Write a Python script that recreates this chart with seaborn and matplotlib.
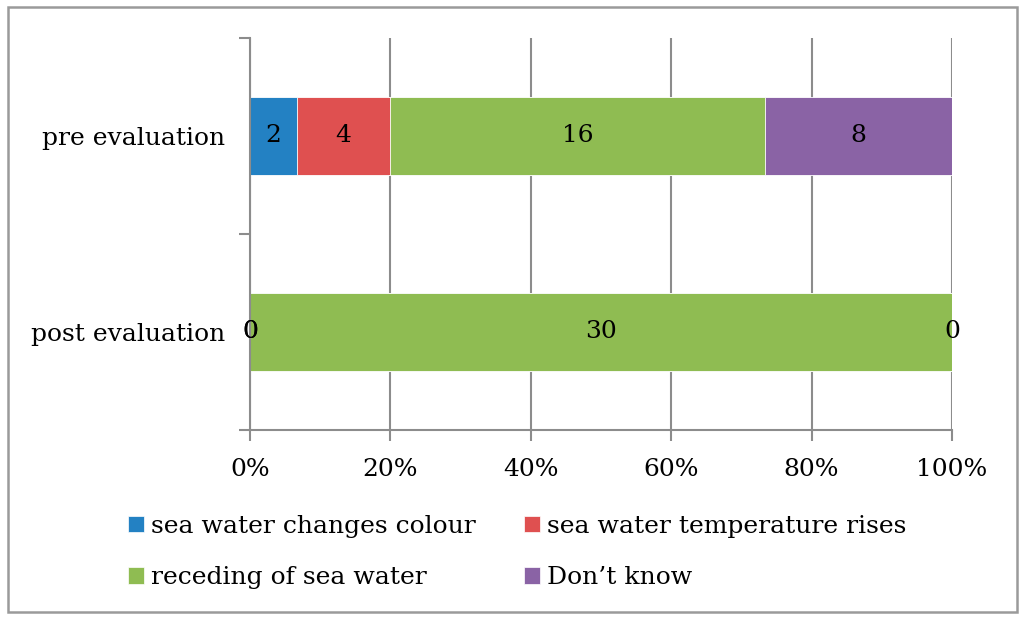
import numpy as np
import pandas as pd
import seaborn as sns
import matplotlib.pyplot as plt
from matplotlib.patches import Patch, Rectangle

stages = ["pre evaluation", "post evaluation"]
answers = ["sea water changes colour", "sea water temperature rises",
           "receding of sea water", "Don\u2019t know"]
changes_colour = [2, 0]
temp_rises = [4, 0]
receding = [16, 30]
dont_know = [8, 0]
colors = ["#2381c3", "#df5050", "#8fbc52", "#8a63a5"]

sns.set_theme(style="white")
plt.rcParams["font.family"] = ["DejaVu Serif"]
FS = 18

counts = np.array([changes_colour, temp_rises, receding, dont_know], dtype=float)
pct = counts / counts.sum(axis=0) * 100
cum = pct.cumsum(axis=0)

fig = plt.figure(figsize=(10.24, 6.19), dpi=100)
ax = fig.add_axes([250 / 1024, 1 - 430 / 619, 702 / 1024, 392 / 619])

# layered bars: draw longest cumulative first
for i in range(len(answers) - 1, -1, -1):
    df = pd.DataFrame({"stage": stages, "pct": cum[i]})
    sns.barplot(data=df, x="pct", y="stage", orient="h", color=colors[i],
                saturation=1, width=0.4, order=stages, ax=ax, zorder=2,
                edgecolor="white", linewidth=0.6)

# value labels at segment centres
for i in range(len(answers)):
    for j in range(len(stages)):
        left = cum[i, j] - pct[i, j]
        ax.text(left + pct[i, j] / 2, j, f"{int(counts[i, j])}",
                ha="center", va="center", fontsize=FS, color="black", zorder=5)

ax.set_xlim(0, 100)
ax.set_ylim(1.5, -0.5)
ax.set_xticks([0, 20, 40, 60, 80, 100])
ax.set_xticklabels([f"{v}%" for v in [0, 20, 40, 60, 80, 100]], fontsize=FS)
ax.set_yticks([0, 1])
ax.set_yticklabels(stages, fontsize=FS)
ax.set_yticks([-0.5, 0.5, 1.5], minor=True)
ax.set_xlabel("")
ax.set_ylabel("")
ax.grid(axis="x", color="#8c8c8c", linewidth=1.5, zorder=0)
ax.set_axisbelow(True)
for s in ["top", "right"]:
    ax.spines[s].set_visible(False)
for s in ["left", "bottom"]:
    ax.spines[s].set_color("#8c8c8c")
    ax.spines[s].set_linewidth(1.5)
ax.tick_params(axis="y", which="major", length=0, pad=18, colors="black")
ax.tick_params(axis="y", which="minor", length=8, width=1.5, color="#8c8c8c", left=True)
ax.tick_params(axis="x", which="major", length=8, width=1.5, color="#8c8c8c",
               bottom=True, pad=12, labelcolor="black")

order = [0, 2, 1, 3]
handles = [Patch(facecolor=colors[k], edgecolor="white", linewidth=0.5) for k in order]
fig.legend(handles, [answers[k] for k in order], ncol=2, loc="center",
           bbox_to_anchor=(0.505, 1 - 552 / 619), frameon=False, fontsize=FS,
           labelcolor="black", handlelength=0.65, handleheight=0.65,
           handletextpad=0.3, columnspacing=1.9, labelspacing=1.15)

fig.patches.append(Rectangle((8 / 1024, 7 / 619), 1009 / 1024, 605 / 619,
                             transform=fig.transFigure, fill=False,
                             edgecolor="#9a9a9a", linewidth=1.8))

fig.savefig("out.png", dpi=100)
